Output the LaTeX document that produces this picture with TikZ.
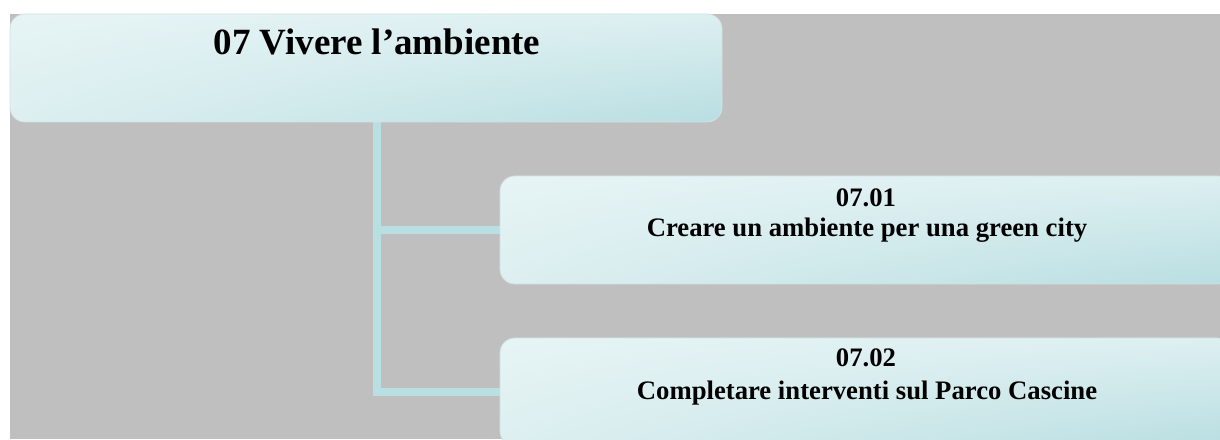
\documentclass[tikz,border=0pt]{standalone}
\usepackage{fontspec}
\setmainfont{Liberation Serif}
\usetikzlibrary{shadings}
\begin{document}
\begin{tikzpicture}[x=1pt,y=1pt,
  bg/.style={fill=bggray,draw=none},
  box/.style={rectangle,rounded corners=15pt,draw=boxedge,line width=0.8pt,
    upper left=boxUL,upper right=boxUR,lower left=boxLL,lower right=boxLR,
    inner sep=0pt},
  conn/.style={draw=connc,line width=8pt},
  title/.style={font=\bfseries\fontsize{37}{43}\selectfont,anchor=base,inner sep=0pt},
  lbl/.style={font=\bfseries\fontsize{26.7}{31}\selectfont,anchor=base,inner sep=0pt}]
\definecolor{bggray}{HTML}{BFBFBF}
\definecolor{boxedge}{HTML}{D2E2E3}
\definecolor{boxUL}{HTML}{E6F4F5}
\definecolor{boxUR}{HTML}{DDEFF1}
\definecolor{boxLL}{HTML}{DDEFF0}
\definecolor{boxLR}{HTML}{B8DEE1}
\definecolor{connc}{HTML}{B8DFE2}
\useasboundingbox (0,0) rectangle (1220,439);
\clip (0,0) rectangle (1220,439);
\fill[white] (0,0) rectangle (1220,439);
\path[bg] (10,0) rectangle (1220,425);
\coordinate (trunk) at (377,330);
\draw[conn] (trunk) |- (866,209);
\draw[conn] (trunk) |- (866,47);
\node[box,minimum width=712pt,minimum height=108pt] (top) at (366,371) {};
\node[box,minimum width=732pt,minimum height=108pt] (c1) at (866,209) {};
\node[box,minimum width=732pt,minimum height=108pt] (c2) at (866,47) {};
\node[title] (t0) at (377,384) {07 Vivere l’ambiente};
\node[lbl] (c1n) at (866,232) {07.01};
\node[lbl] (c1t) at (867,202) {Creare un ambiente per una green city};
\node[lbl] (c2n) at (866,72) {07.02};
\node[lbl] (c2t) at (867,40) {Completare interventi sul Parco Cascine};
\end{tikzpicture}
\end{document}
